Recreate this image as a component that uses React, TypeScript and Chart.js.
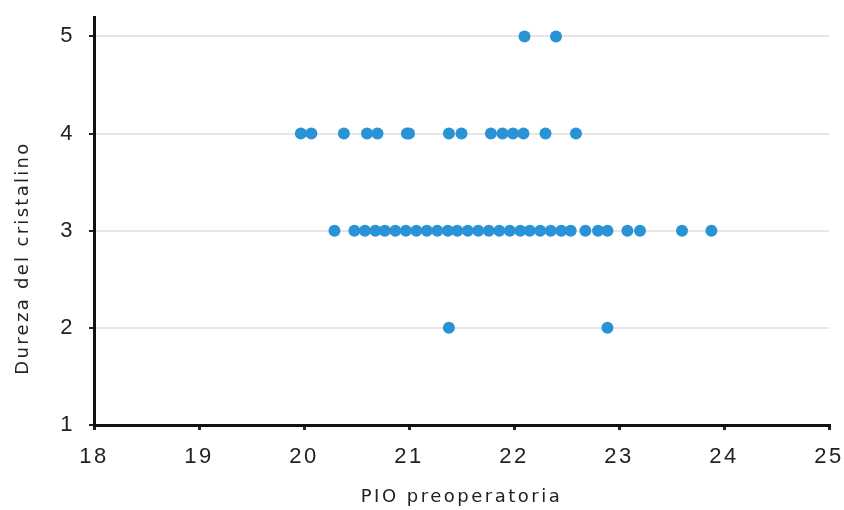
import React, { useEffect, useRef } from "react";
import { Chart, registerables } from "chart.js";

Chart.register(...registerables);

const pioRow5: number[] = [22.1, 22.4];
const pioRow4: number[] = [19.97, 20.07, 20.38, 20.6, 20.7, 20.98, 21.0, 21.38, 21.5, 21.78, 21.89, 21.99, 22.09, 22.3, 22.59];
const pioRow3: number[] = [
  20.29, 20.48, 20.58, 20.68, 20.77, 20.87, 20.97, 21.07, 21.17, 21.27, 21.37, 21.46,
  21.56, 21.66, 21.76, 21.86, 21.96, 22.06, 22.15, 22.25, 22.35, 22.45, 22.54,
  22.68, 22.8, 22.89, 23.08, 23.2, 23.6, 23.88,
];
const pioRow2: number[] = [21.38, 22.89];
const hardnessLevels: number[] = [5, 4, 3, 2];
const xTicks: number[] = [18, 19, 20, 21, 22, 23, 24, 25];
const yTicks: number[] = [1, 2, 3, 4, 5];
const yTitle = "Dureza del cristalino";
const xTitle = "PIO preoperatoria";

const spacingPlugin = {
  id: "letterSpacing",
  beforeUpdate(chart: any) {
    chart.ctx.letterSpacing = "2.5px";
  },
  beforeDraw(chart: any) {
    chart.ctx.letterSpacing = "2.5px";
  },
  afterDraw(chart: any) {
    const ctx = chart.ctx;
    ctx.save();
    ctx.letterSpacing = "2.3px";
    ctx.translate(23, 258);
    ctx.rotate(-Math.PI / 2);
    ctx.font = "18px 'DejaVu Sans'";
    ctx.fillStyle = "#222";
    ctx.textAlign = "center";
    ctx.textBaseline = "middle";
    ctx.fillText(yTitle, 0, 0);
    ctx.restore();
  },
};

export default function App() {
  const ref = useRef<HTMLCanvasElement | null>(null);
  useEffect(() => {
    if (!ref.current) return;
    const rows = [pioRow5, pioRow4, pioRow3, pioRow2];
    const data: { x: number; y: number }[] = [];
    rows.forEach((row, i) => row.forEach((x) => data.push({ x, y: hardnessLevels[i] })));
    const tickFont = { family: "Liberation Sans", size: 22 };
    const titleFont = { family: "DejaVu Sans", size: 18 };
    const chart = new Chart(ref.current, {
      type: "scatter",
      data: {
        datasets: [
          {
            data,
            backgroundColor: "#2a93d6",
            borderColor: "#2a93d6",
            pointRadius: 6,
            pointHoverRadius: 6,
            borderWidth: 0,
          },
        ],
      },
      plugins: [spacingPlugin],
      options: {
        responsive: false,
        animation: false,
        layout: { padding: { left: 8, right: 15, top: 17, bottom: 0 } },
        plugins: { legend: { display: false }, tooltip: { enabled: false } },
        scales: {
          x: {
            type: "linear",
            min: 18,
            max: 25,
            afterBuildTicks: (s: any) => {
              s.ticks = xTicks.map((v) => ({ value: v }));
            },
            afterFit: (s: any) => {
              s.height = 85;
              s.paddingLeft = 0;
              s.paddingRight = 0;
            },
            ticks: { font: tickFont, color: "#222", padding: 14, maxRotation: 0 },
            grid: { drawOnChartArea: false, tickColor: "#222", tickLength: 5, lineWidth: 3 },
            border: { color: "#111", width: 3 },
            title: {
              display: true,
              text: xTitle,
              font: titleFont,
              color: "#222",
              padding: { top: 4, bottom: 2 },
            },
          },
          y: {
            type: "linear",
            min: 1,
            max: 5.2,
            afterBuildTicks: (s: any) => {
              s.ticks = yTicks.map((v) => ({ value: v }));
            },
            afterFit: (s: any) => {
              s.width = 86;
              s.paddingTop = 0;
              s.paddingBottom = 0;
            },
            ticks: { font: tickFont, color: "#222", padding: 14 },
            grid: { color: "#e6e6e6", lineWidth: 2, tickColor: "#222", tickLength: 5 },
            border: { color: "#111", width: 3 },
            title: { display: false },
          },
        },
      },
    });
    return () => chart.destroy();
  }, []);
  return (
    <div style={{ position: "fixed", left: 0, top: 0, width: 844, height: 510, background: "#fff" }}>
      <canvas ref={ref} width={844} height={510} />
    </div>
  );
}
